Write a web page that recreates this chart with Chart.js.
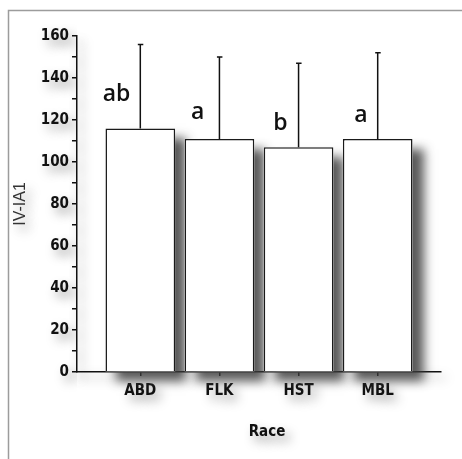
<!DOCTYPE html>
<html>
<head>
<meta charset="utf-8">
<script src="https://cdn.jsdelivr.net/npm/chart.js@4.4.1/dist/chart.umd.min.js"></script>
<style>
  html, body { margin: 0; padding: 0; background: #fff; }
  #wrap { width: 462px; height: 459px; position: relative; }
</style>
</head>
<body>
<div id="wrap"><canvas id="c"></canvas></div>
<script>
// Race groups, their means, standard deviations and significance letters
const categories = ['ABD', 'FLK', 'HST', 'MBL'];
const means = [116, 111, 107, 111];
const sd = [40, 39, 40, 41];
const groupLetters = ['ab', 'a', 'b', 'a'];
const yTicks = [0, 20, 40, 60, 80, 100, 120, 140, 160];

const tickFont = { family: "'Liberation Sans Narrow', 'DejaVu Sans Condensed', 'Liberation Sans', sans-serif", size: 15, weight: 'bold' };
const ink = '#111';

function setSoftShadow(ctx) {
  ctx.shadowColor = 'rgba(0,0,0,0.38)';
  ctx.shadowBlur = 11;
  ctx.shadowOffsetX = 5;
  ctx.shadowOffsetY = 6;
}
function clearShadow(ctx) {
  ctx.shadowColor = 'rgba(0,0,0,0)';
  ctx.shadowBlur = 0;
  ctx.shadowOffsetX = 0;
  ctx.shadowOffsetY = 0;
}

// Page background, frame and the soft halo used for axes and text
const framePlugin = {
  id: 'frame',
  beforeDraw(chart) {
    const ctx = chart.ctx;
    ctx.save();
    ctx.fillStyle = '#ffffff';
    ctx.fillRect(0, 0, chart.width, chart.height);
    ctx.strokeStyle = '#9c9c9c';
    ctx.lineWidth = 1.5;
    ctx.strokeRect(8.5, 10.5, chart.width + 20, chart.height + 20);
    ctx.restore();
    ctx.save();
    setSoftShadow(ctx);
  },
  afterDraw(chart) {
    chart.ctx.restore();
  }
};

// Drop shadows behind the bars, error bars, group letters and the x-axis title
const barExtras = {
  id: 'barExtras',
  beforeDatasetsDraw(chart) {
    const ctx = chart.ctx;
    clearShadow(ctx);
    const meta = chart.getDatasetMeta(0);
    meta.data.forEach(el => {
      const p = el.getProps(['x', 'y', 'base', 'width'], true);
      ctx.save();
      ctx.shadowColor = 'rgba(60,60,60,0.85)';
      ctx.shadowBlur = 10;
      ctx.shadowOffsetX = 11;
      ctx.shadowOffsetY = 10;
      ctx.fillStyle = '#ffffff';
      ctx.fillRect(p.x - p.width / 2, p.y, p.width, p.base - p.y);
      ctx.restore();
    });
  },
  afterDatasetsDraw(chart) {
    const ctx = chart.ctx;
    const yScale = chart.scales.y;
    const meta = chart.getDatasetMeta(0);
    ctx.save();
    clearShadow(ctx);
    ctx.strokeStyle = ink;
    ctx.lineWidth = 1.5;
    meta.data.forEach((el, i) => {
      const top = yScale.getPixelForValue(means[i] + sd[i]);
      ctx.beginPath();
      ctx.moveTo(el.x, el.y);
      ctx.lineTo(el.x, top);
      ctx.moveTo(el.x - 2.5, top);
      ctx.lineTo(el.x + 3, top);
      ctx.stroke();
    });
    ctx.restore();
    setSoftShadow(ctx);
  },
  afterDraw(chart, args, opts) {
    const ctx = chart.ctx;
    const meta = chart.getDatasetMeta(0);
    const area = chart.chartArea;

    // x-axis title, with the same soft halo as the tick labels
    ctx.save();
    setSoftShadow(ctx);
    ctx.fillStyle = ink;
    ctx.font = 'bold 15px ' + tickFont.family;
    ctx.textAlign = 'center';
    ctx.textBaseline = 'middle';
    ctx.fillText('Race', (area.left + area.right) / 2 + opts.titleShift, area.bottom + opts.titleDrop);
    ctx.restore();

    ctx.save();
    clearShadow(ctx);
    ctx.fillStyle = ink;
    ctx.font = "600 23px 'Open Sans', 'Noto Sans', sans-serif";
    ctx.textAlign = 'right';
    ctx.textBaseline = 'alphabetic';
    meta.data.forEach((el, i) => {
      ctx.fillText(groupLetters[i], el.x - opts.gapX[i], el.y - opts.gapY[i]);
    });
    ctx.restore();
  }
};

new Chart(document.getElementById('c'), {
  type: 'bar',
  data: {
    datasets: [{
      data: categories.map((c, i) => ({ x: i, y: means[i] })),
      backgroundColor: '#ffffff',
      borderColor: '#1a1a1a',
      borderWidth: 1.5,
      barPercentage: 0.88,
      categoryPercentage: 1.0
    }]
  },
  options: {
    responsive: true,
    maintainAspectRatio: false,
    animation: false,
    devicePixelRatio: 1,
    layout: { padding: { top: 36, right: 21, left: 0, bottom: 0 } },
    plugins: {
      legend: { display: false },
      tooltip: { enabled: false },
      barExtras: { gapX: [10, 15, 11, 10], gapY: [27, 20, 17, 17], titleShift: 8, titleDrop: 60 }
    },
    scales: {
      x: {
        type: 'linear',
        z: 1,
        offset: false,
        min: -0.8,
        max: 3.8,
        afterBuildTicks: s => { s.ticks = categories.map((c, i) => ({ value: i })); },
        afterFit: s => { s.height = 87; },
        ticks: {
          callback: v => categories[v],
          font: tickFont,
          color: ink,
          padding: 6,
          maxRotation: 0,
          autoSkip: false
        },
        grid: { offset: false, drawOnChartArea: false, tickLength: 4, color: ink, lineWidth: 1.5 },
        border: { color: ink, width: 1.5 }
      },
      y: {
        z: 1,
        min: 0,
        max: 160,
        afterFit: s => { s.width = 77; },
        afterBuildTicks: s => {
          const t = [];
          for (let v = 0; v <= 160; v += 10) t.push({ value: v });
          s.ticks = t;
        },
        ticks: {
          callback: v => (yTicks.includes(v) ? String(v) : ''),
          font: tickFont,
          color: ink,
          padding: 3
        },
        grid: { drawOnChartArea: false, tickLength: 5, color: ink, lineWidth: 1.5 },
        border: { color: ink, width: 1.5 },
        title: {
          display: true,
          text: 'IV-IA1',
          font: { family: "'Liberation Sans', Arial, sans-serif", size: 16 },
          color: '#333',
          padding: { top: 11, bottom: 0 }
        }
      }
    }
  },
  plugins: [framePlugin, barExtras]
});
</script>
</body>
</html>
